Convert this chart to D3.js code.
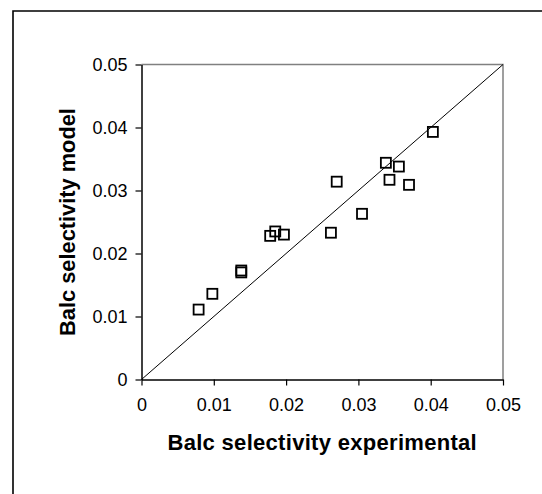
<!DOCTYPE html>
<html>
<head>
<meta charset="utf-8">
<script src="https://cdn.jsdelivr.net/npm/d3@7"></script>
<style>
  body { margin: 0; background: #fff; overflow: hidden; }
  svg { display: block; overflow: hidden; font-family: "Liberation Sans", Arial, sans-serif; }
</style>
</head>
<body>
<svg id="chart" width="542" height="494"></svg>
<script>
const expX = [0.0079, 0.0098, 0.0138, 0.0138, 0.0178, 0.0185, 0.0197, 0.0262, 0.0270, 0.0305, 0.0338, 0.0343, 0.0356, 0.0370, 0.0403];
const modelY = [0.0111, 0.0136, 0.0173, 0.0170, 0.0228, 0.0235, 0.0230, 0.0233, 0.0314, 0.0263, 0.0344, 0.0317, 0.0338, 0.0309, 0.0393];
const tickVals = [0, 0.01, 0.02, 0.03, 0.04, 0.05];
const tickLabels = ["0", "0.01", "0.02", "0.03", "0.04", "0.05"];
const xTitle = "Balc selectivity experimental";
const yTitle = "Balc selectivity model";

const svg = d3.select("#chart");
const plotL = 141.5, plotR = 503, plotT = 64.5, plotB = 379.5;

const x = d3.scaleLinear().domain([0, 0.05]).range([plotL, plotR]);
const y = d3.scaleLinear().domain([0, 0.05]).range([plotB, plotT]);

// outer frame (only top and left edges fall inside the picture)
svg.append("path")
    .attr("d", "M13,494V11H542")
    .attr("fill", "none")
    .attr("stroke", "#000")
    .attr("stroke-width", 1.6);

// plot area border, grey on top and right
svg.append("path")
    .attr("d", `M${plotL},${plotT}H${plotR}V${plotB}`)
    .attr("fill", "none")
    .attr("stroke", "#808080")
    .attr("stroke-width", 1.5);

const fmt = d => tickLabels[tickVals.indexOf(d)];

const xAxis = svg.append("g")
    .attr("transform", `translate(0,${plotB})`)
    .call(d3.axisBottom(x).tickValues(tickVals).tickFormat(fmt).tickSizeInner(6).tickSizeOuter(0).tickPadding(13));

const yAxis = svg.append("g")
    .attr("transform", `translate(${plotL},0)`)
    .call(d3.axisLeft(y).tickValues(tickVals).tickFormat(fmt).tickSizeInner(6).tickSizeOuter(0).tickPadding(8));

[xAxis, yAxis].forEach(g => {
    g.select(".domain").attr("stroke", "#000").attr("stroke-width", 1.5);
    g.selectAll(".tick line").attr("stroke", "#000").attr("stroke-width", 1.2);
    g.selectAll(".tick text")
        .attr("fill", "#000")
        .style("font-family", "'Liberation Sans', Arial, sans-serif")
        .style("font-size", "18px");
});

// 1:1 line
svg.append("line")
    .attr("x1", x(0)).attr("y1", y(0))
    .attr("x2", x(0.05)).attr("y2", y(0.05))
    .attr("stroke", "#000")
    .attr("stroke-width", 1);

// square markers
const sz = 10;
svg.selectAll(".pt")
    .data(expX.map((v, i) => [v, modelY[i]]))
    .enter().append("rect")
    .attr("class", "pt")
    .attr("x", d => x(d[0]) - sz / 2)
    .attr("y", d => y(d[1]) - sz / 2)
    .attr("width", sz).attr("height", sz)
    .attr("fill", "none")
    .attr("stroke", "#000")
    .attr("stroke-width", 1.8);

// axis titles
svg.append("text")
    .attr("x", (plotL + plotR) / 2)
    .attr("y", 450)
    .attr("text-anchor", "middle")
    .style("font-size", "22px")
    .style("letter-spacing", "0.3px")
    .style("font-weight", "bold")
    .text(xTitle);

svg.append("text")
    .attr("transform", `translate(75,${(plotT + plotB) / 2}) rotate(-90)`)
    .attr("text-anchor", "middle")
    .style("font-size", "21.8px")
    .style("font-weight", "bold")
    .text(yTitle);
</script>
</body>
</html>
